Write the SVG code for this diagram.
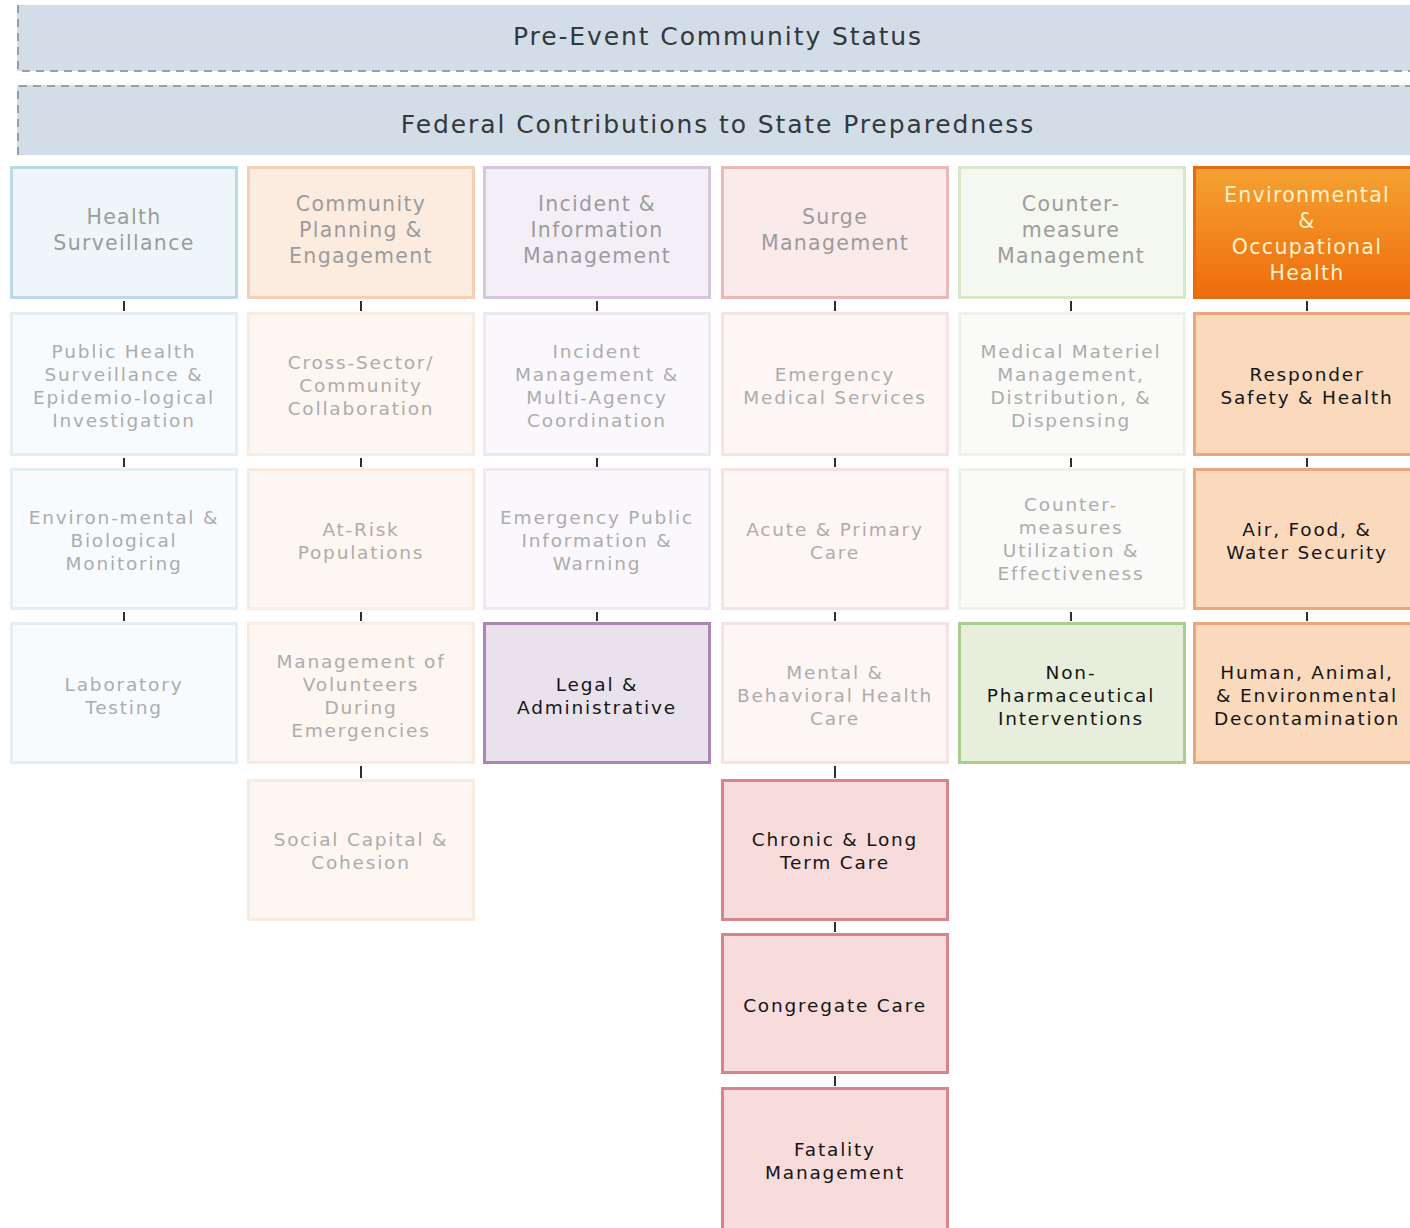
<svg xmlns="http://www.w3.org/2000/svg" width="1410" height="1228" viewBox="0 0 1410 1228">
<defs>
<linearGradient id="orangeGrad" x1="0" y1="0" x2="0" y2="1">
<stop offset="0" stop-color="#f5a233"/>
<stop offset="1" stop-color="#ee6c0c"/>
</linearGradient>
<style>
text{font-family:"DejaVu Sans","Verdana",sans-serif;text-anchor:middle}
.ban{font-size:25px;letter-spacing:1.9px;fill:#33383e}
.h{font-size:20.5px;letter-spacing:1.3px;fill:#9c9c9c}
.b{font-size:18.5px;letter-spacing:1.8px;fill:#acacac}
.d{font-size:18.5px;letter-spacing:1.8px;fill:#151515}
.hw{font-size:20.5px;letter-spacing:1.3px;fill:#fff2cc}
rect{stroke-width:3}
.dash{stroke:#98a0a8;stroke-width:2;stroke-dasharray:8 6;fill:none}
.tick{stroke:#2e2e2e;stroke-width:2}
.c1h{fill:#eef6fa;stroke:#bcd9e8}.c1f{fill:#f7fbfd;stroke:#e3eff5}
.c2h{fill:#fcebdf;stroke:#f5d0b6}.c2f{fill:#fdf6f1;stroke:#f9ebe0}
.c3h{fill:#f4eff7;stroke:#d7c5de}.c3f{fill:#faf8fc;stroke:#efe7f2}.c3d{fill:#e9e2ec;stroke:#aa86b3}
.c4h{fill:#fbeaea;stroke:#ebb8b8}.c4f{fill:#fdf6f5;stroke:#f6e2e2}.c4d{fill:#f8dcdb;stroke:#d8848c}
.c5h{fill:#f5f8f1;stroke:#d8e8cb}.c5f{fill:#fafbf8;stroke:#eef3ea}.c5d{fill:#e7efdc;stroke:#aacd8e}
.c6h{fill:url(#orangeGrad);stroke:#e46c10}.c6d{fill:#fad9bd;stroke:#eca67b}
</style>
</defs>
<rect width="1410" height="1228" fill="#ffffff" stroke="none"/>

<g id="banner-pre-event">
<rect x="17" y="5" width="1393" height="66" fill="#d3dde8" stroke="none"/>
<path class="dash" d="M18 5 V71 H1410"/>
<text class="ban" x="718" y="45">Pre-Event Community Status</text>
</g>
<g id="banner-federal">
<rect x="17" y="85" width="1393" height="70" fill="#d3dde8" stroke="none"/>
<path class="dash" d="M18 155 V86 H1410"/>
<text class="ban" x="718" y="133">Federal Contributions to State Preparedness</text>
</g>

<g id="connectors">
<line class="tick" x1="124" y1="301" x2="124" y2="311"/>
<line class="tick" x1="124" y1="458" x2="124" y2="467"/>
<line class="tick" x1="124" y1="612" x2="124" y2="621"/>
<line class="tick" x1="361" y1="301" x2="361" y2="311"/>
<line class="tick" x1="361" y1="458" x2="361" y2="467"/>
<line class="tick" x1="361" y1="612" x2="361" y2="621"/>
<line class="tick" x1="361" y1="766" x2="361" y2="778"/>
<line class="tick" x1="597" y1="301" x2="597" y2="311"/>
<line class="tick" x1="597" y1="458" x2="597" y2="467"/>
<line class="tick" x1="597" y1="612" x2="597" y2="621"/>
<line class="tick" x1="835" y1="301" x2="835" y2="311"/>
<line class="tick" x1="835" y1="458" x2="835" y2="467"/>
<line class="tick" x1="835" y1="612" x2="835" y2="621"/>
<line class="tick" x1="835" y1="766" x2="835" y2="778"/>
<line class="tick" x1="835" y1="922" x2="835" y2="932"/>
<line class="tick" x1="835" y1="1076" x2="835" y2="1086"/>
<line class="tick" x1="1071" y1="301" x2="1071" y2="311"/>
<line class="tick" x1="1071" y1="458" x2="1071" y2="467"/>
<line class="tick" x1="1071" y1="612" x2="1071" y2="621"/>
<line class="tick" x1="1307" y1="301" x2="1307" y2="311"/>
<line class="tick" x1="1307" y1="458" x2="1307" y2="467"/>
<line class="tick" x1="1307" y1="612" x2="1307" y2="621"/>
</g>

<!-- Column 1 -->
<g id="node-health-surveillance">
<rect class="c1h" x="11.5" y="167.5" width="225" height="130"/>
<text class="h" x="124" y="224">Health</text>
<text class="h" x="124" y="250">Surveillance</text>
</g>
<g id="node-public-health-surveillance">
<rect class="c1f" x="11.5" y="313.5" width="225" height="141"/>
<text class="b" x="124" y="357.5">Public Health</text>
<text class="b" x="124" y="380.5">Surveillance &amp;</text>
<text class="b" x="124" y="403.5">Epidemio-logical</text>
<text class="b" x="124" y="426.5">Investigation</text>
</g>
<g id="node-environmental-monitoring">
<rect class="c1f" x="11.5" y="469.5" width="225" height="139"/>
<text class="b" x="124" y="524">Environ-mental &amp;</text>
<text class="b" x="124" y="547">Biological</text>
<text class="b" x="124" y="570">Monitoring</text>
</g>
<g id="node-laboratory-testing">
<rect class="c1f" x="11.5" y="623.5" width="225" height="139"/>
<text class="b" x="124" y="690.5">Laboratory</text>
<text class="b" x="124" y="713.5">Testing</text>
</g>

<!-- Column 2 -->
<g id="node-community-planning">
<rect class="c2h" x="248.5" y="167.5" width="225" height="130"/>
<text class="h" x="361" y="211">Community</text>
<text class="h" x="361" y="237">Planning &amp;</text>
<text class="h" x="361" y="263">Engagement</text>
</g>
<g id="node-cross-sector">
<rect class="c2f" x="248.5" y="313.5" width="225" height="141"/>
<text class="b" x="361" y="369">Cross-Sector/</text>
<text class="b" x="361" y="392">Community</text>
<text class="b" x="361" y="415">Collaboration</text>
</g>
<g id="node-at-risk">
<rect class="c2f" x="248.5" y="469.5" width="225" height="139"/>
<text class="b" x="361" y="535.5">At-Risk</text>
<text class="b" x="361" y="558.5">Populations</text>
</g>
<g id="node-volunteers">
<rect class="c2f" x="248.5" y="623.5" width="225" height="139"/>
<text class="b" x="361" y="667.5">Management of</text>
<text class="b" x="361" y="690.5">Volunteers</text>
<text class="b" x="361" y="713.5">During</text>
<text class="b" x="361" y="736.5">Emergencies</text>
</g>
<g id="node-social-capital">
<rect class="c2f" x="248.5" y="780.5" width="225" height="139"/>
<text class="b" x="361" y="845.5">Social Capital &amp;</text>
<text class="b" x="361" y="868.5">Cohesion</text>
</g>

<!-- Column 3 -->
<g id="node-incident-information">
<rect class="c3h" x="484.5" y="167.5" width="225" height="130"/>
<text class="h" x="597" y="211">Incident &amp;</text>
<text class="h" x="597" y="237">Information</text>
<text class="h" x="597" y="263">Management</text>
</g>
<g id="node-incident-management">
<rect class="c3f" x="484.5" y="313.5" width="225" height="141"/>
<text class="b" x="597" y="357.5">Incident</text>
<text class="b" x="597" y="380.5">Management &amp;</text>
<text class="b" x="597" y="403.5">Multi-Agency</text>
<text class="b" x="597" y="426.5">Coordination</text>
</g>
<g id="node-public-information">
<rect class="c3f" x="484.5" y="469.5" width="225" height="139"/>
<text class="b" x="597" y="524">Emergency Public</text>
<text class="b" x="597" y="547">Information &amp;</text>
<text class="b" x="597" y="570">Warning</text>
</g>
<g id="node-legal">
<rect class="c3d" x="484.5" y="623.5" width="225" height="139"/>
<text class="d" x="597" y="690.5">Legal &amp;</text>
<text class="d" x="597" y="713.5">Administrative</text>
</g>

<!-- Column 4 -->
<g id="node-surge-management">
<rect class="c4h" x="722.5" y="167.5" width="225" height="130"/>
<text class="h" x="835" y="224">Surge</text>
<text class="h" x="835" y="250">Management</text>
</g>
<g id="node-ems">
<rect class="c4f" x="722.5" y="313.5" width="225" height="141"/>
<text class="b" x="835" y="380.5">Emergency</text>
<text class="b" x="835" y="403.5">Medical Services</text>
</g>
<g id="node-acute-care">
<rect class="c4f" x="722.5" y="469.5" width="225" height="139"/>
<text class="b" x="835" y="535.5">Acute &amp; Primary</text>
<text class="b" x="835" y="558.5">Care</text>
</g>
<g id="node-mental-health">
<rect class="c4f" x="722.5" y="623.5" width="225" height="139"/>
<text class="b" x="835" y="679">Mental &amp;</text>
<text class="b" x="835" y="702">Behavioral Health</text>
<text class="b" x="835" y="725">Care</text>
</g>
<g id="node-chronic-care">
<rect class="c4d" x="722.5" y="780.5" width="225" height="139"/>
<text class="d" x="835" y="845.5">Chronic &amp; Long</text>
<text class="d" x="835" y="868.5">Term Care</text>
</g>
<g id="node-congregate-care">
<rect class="c4d" x="722.5" y="934.5" width="225" height="138"/>
<text class="d" x="835" y="1011.5">Congregate Care</text>
</g>
<g id="node-fatality-management">
<rect class="c4d" x="722.5" y="1088.5" width="225" height="142"/>
<text class="d" x="835" y="1155.5">Fatality</text>
<text class="d" x="835" y="1178.5">Management</text>
</g>

<!-- Column 5 -->
<g id="node-countermeasure-management">
<rect class="c5h" x="959.5" y="167.5" width="225" height="130"/>
<text class="h" x="1071" y="211">Counter-</text>
<text class="h" x="1071" y="237">measure</text>
<text class="h" x="1071" y="263">Management</text>
</g>
<g id="node-medical-materiel">
<rect class="c5f" x="959.5" y="313.5" width="225" height="141"/>
<text class="b" x="1071" y="357.5">Medical Materiel</text>
<text class="b" x="1071" y="380.5">Management,</text>
<text class="b" x="1071" y="403.5">Distribution, &amp;</text>
<text class="b" x="1071" y="426.5">Dispensing</text>
</g>
<g id="node-countermeasures-utilization">
<rect class="c5f" x="959.5" y="469.5" width="225" height="139"/>
<text class="b" x="1071" y="510.5">Counter-</text>
<text class="b" x="1071" y="533.5">measures</text>
<text class="b" x="1071" y="556.5">Utilization &amp;</text>
<text class="b" x="1071" y="579.5">Effectiveness</text>
</g>
<g id="node-non-pharmaceutical">
<rect class="c5d" x="959.5" y="623.5" width="225" height="139"/>
<text class="d" x="1071" y="679">Non-</text>
<text class="d" x="1071" y="702">Pharmaceutical</text>
<text class="d" x="1071" y="725">Interventions</text>
</g>

<!-- Column 6 -->
<g id="node-environmental-occupational">
<rect class="c6h" x="1194.5" y="167.5" width="225" height="130"/>
<text class="hw" x="1307" y="202">Environmental</text>
<text class="hw" x="1307" y="228">&amp;</text>
<text class="hw" x="1307" y="254">Occupational</text>
<text class="hw" x="1307" y="280">Health</text>
</g>
<g id="node-responder-safety">
<rect class="c6d" x="1194.5" y="313.5" width="225" height="141"/>
<text class="d" x="1307" y="380.5">Responder</text>
<text class="d" x="1307" y="403.5">Safety &amp; Health</text>
</g>
<g id="node-air-food-water">
<rect class="c6d" x="1194.5" y="469.5" width="225" height="139"/>
<text class="d" x="1307" y="535.5">Air, Food, &amp;</text>
<text class="d" x="1307" y="558.5">Water Security</text>
</g>
<g id="node-decontamination">
<rect class="c6d" x="1194.5" y="623.5" width="225" height="139"/>
<text class="d" x="1307" y="679">Human, Animal,</text>
<text class="d" x="1307" y="702">&amp; Environmental</text>
<text class="d" x="1307" y="725">Decontamination</text>
</g>
</svg>
